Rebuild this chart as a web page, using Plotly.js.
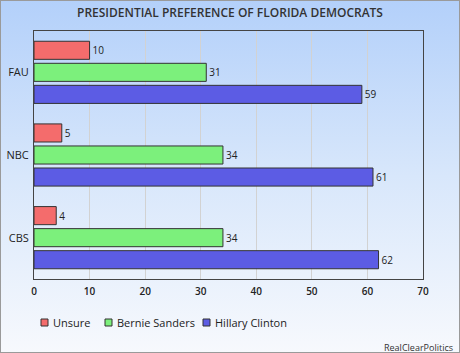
<!DOCTYPE html>
<html><head><meta charset="utf-8">
<script src="https://cdn.plot.ly/plotly-3.0.1.min.js"></script>
<style>
html,body{margin:0;padding:0;}
#wrap{position:relative;width:460px;height:353px;background:linear-gradient(to bottom,#b3d0fa 0%,#d8e7fb 50%,#f7f9fd 100%);}
#chart{width:460px;height:353px;}
#frame{position:absolute;left:0;top:0;width:460px;height:353px;box-sizing:border-box;border:1px solid #9a9a9a;pointer-events:none;}
</style></head>
<body>
<div id="wrap"><div id="chart"></div><div id="frame"></div></div>
<script>
var categories = ["FAU", "NBC", "CBS"];
var unsure = [10, 5, 4];
var sanders = [31, 34, 34];
var clinton = [59, 61, 62];
var seriesNames = ["Unsure", "Bernie Sanders", "Hillary Clinton"];
var xTicks = [0, 10, 20, 30, 40, 50, 60, 70];

var fills = ["#f46c6c", "#7cf07c", "#5c5ce4"];
var series = [unsure, sanders, clinton];
var traces = series.map(function(vals, i){
  return {
    type: "bar", orientation: "h",
    name: seriesNames[i], y: categories, x: vals,
    text: vals.map(String), textposition: "outside", cliponaxis: false,
    textfont: {family: "Open Sans, sans-serif", size: 10, color: "#222"},
    marker: {color: fills[i], line: {color: "#333", width: 1}},
    hoverinfo: "none", showlegend: false
  };
});

// plot area in pixels: left 34, right 423, top 31, bottom 279
var PL = 34, PR = 423, PT = 31, PB = 279;
function px(x){ return (x - PL) / (PR - PL); }
function py(y){ return (PB - y) / (PB - PT); }

var legendX = [41, 105, 203];
var shapes = [], annotations = [];
seriesNames.forEach(function(n, i){
  shapes.push({type: "rect", xref: "paper", yref: "paper",
    x0: px(legendX[i]), x1: px(legendX[i] + 7), y0: py(326), y1: py(319),
    fillcolor: fills[i], line: {color: "#333", width: 1}});
  annotations.push({text: n, xref: "paper", yref: "paper", x: px(legendX[i] + 10), y: py(322.5),
    xanchor: "left", yanchor: "middle", showarrow: false, font: {size: 11, color: "#222"}});
});
annotations.push({text: "RealClearPolitics", xref: "paper", yref: "paper", x: px(455), y: py(347),
  xanchor: "right", yanchor: "middle", showarrow: false, font: {size: 9, color: "#333"}});

var layout = {
  width: 460, height: 353,
  margin: {l: 34, r: 37, t: 31, b: 74},
  paper_bgcolor: "rgba(0,0,0,0)", plot_bgcolor: "rgba(0,0,0,0)",
  barmode: "group", bargap: 0.2, bargroupgap: 0.18,
  font: {family: "Open Sans, sans-serif", color: "#222"},
  title: {text: "PRESIDENTIAL PREFERENCE OF FLORIDA DEMOCRATS", x: 0.5, xanchor: "center", y: 0.963, yanchor: "middle",
          font: {size: 12, color: "#333", weight: 600}},
  xaxis: {range: [0, 70], tickvals: xTicks, ticktext: xTicks.map(String), showgrid: true, gridcolor: "#d2d2d2",
          showline: true, linecolor: "#444", linewidth: 1, mirror: true, zeroline: false, ticks: "",
          ticklabelstandoff: 3,
          tickfont: {size: 10, color: "#222", weight: 600}, fixedrange: true, automargin: false},
  yaxis: {autorange: "reversed", showline: true, linecolor: "#444", linewidth: 1, mirror: true, ticks: "",
          tickfont: {size: 11, color: "#222"}, ticklabelstandoff: 2, fixedrange: true, automargin: false},
  showlegend: false,
  shapes: shapes,
  annotations: annotations
};
Plotly.newPlot("chart", traces, layout, {displayModeBar: false, staticPlot: true});
</script>
</body></html>
